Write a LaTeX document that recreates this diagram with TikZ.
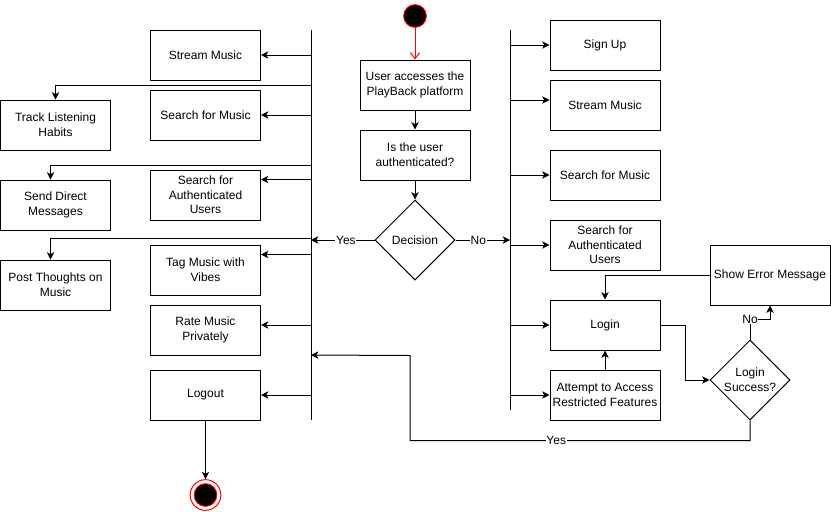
\documentclass[tikz,border=0pt]{standalone}
\usepackage{fontspec}
\setmainfont{Liberation Sans}
\usepackage{tikz}
\usetikzlibrary{arrows.meta,shapes.geometric,calc}
\tikzset{every picture/.style={line width=0.75pt}}
\tikzset{
  actbox/.style={draw, rectangle, minimum width=82.5pt, minimum height=37.5pt, inner sep=1pt, align=center, font=\fontsize{9pt}{11pt}\selectfont},
  decbox/.style={draw, diamond, minimum width=60pt, minimum height=60pt, inner sep=0pt, align=center, font=\fontsize{9pt}{11pt}\selectfont},
  startdot/.style={circle, draw=red, fill=black, minimum size=17pt, inner sep=0pt},
  endring/.style={circle, draw=red, fill=white, minimum size=23pt, inner sep=0pt},
  arr/.style={-{Stealth[length=5.5pt,width=5.5pt,inset=1.5pt]}},
  redarr/.style={draw=red, -{Straight Barb[length=4.5pt,width=7pt]}},
  lbl/.style={fill=white, inner sep=0.5pt, font=\fontsize{9pt}{11pt}\selectfont}
}

\begin{document}
\begin{tikzpicture}[x=0.75pt,y=0.75pt,yscale=-1,xscale=1]
\useasboundingbox (0,0) rectangle (831,511);

%Shape: Start / End
\node[startdot] (start) at (415,16) {};
\node[endring] (stop) at (205.5,495) {};
\node[startdot, minimum size=17pt] (stopdot) at (stop) {};

%Shape: Bars
\coordinate (lbar) at (311,30);
\coordinate (rbar) at (510,30);
\draw (lbar) -- ++(0,390);
\draw (rbar) -- ++(0,380);

%Shape: Middle column
\node[actbox] (access) at (415,85) {User accesses the\\PlayBack platform};
\node[actbox] (auth) at (415,155) {Is the user\\authenticated?};
\node[decbox] (dec) at (415,240) {Decision};

%Shape: Left column
\node[actbox] (lstream) at (205.5,55) {Stream Music};
\node[actbox] (lsearch) at (205.5,115) {Search for Music};
\node[actbox] (lusers) at (205.5,195) {Search for\\Authenticated\\Users};
\node[actbox] (vibes) at (205.5,270) {Tag Music with\\Vibes};
\node[actbox] (rate) at (205.5,330) {Rate Music\\Privately};
\node[actbox] (logout) at (205.5,395) {Logout};

%Shape: Far left column
\node[actbox] (habits) at (55.5,125) {Track Listening\\Habits};
\node[actbox] (messages) at (55.5,205) {Send Direct\\Messages};
\node[actbox] (thoughts) at (55.5,285) {Post Thoughts on\\Music};

%Shape: Right column
\node[actbox] (signup) at (605,45) {Sign Up};
\node[actbox] (rstream) at (605,105) {Stream Music};
\node[actbox] (rsearch) at (605,175) {Search for Music};
\node[actbox] (rusers) at (605,245) {Search for\\Authenticated\\Users};
\node[actbox] (login) at (605,325) {Login};
\node[actbox] (attempt) at (605,395) {Attempt to Access\\Restricted Features};
\node[decbox] (success) at (750,380) {Login\\Success?};
\node[actbox, minimum width=90pt, minimum height=45pt] (error) at (770,275) {Show Error Message};

%Straight Lines: main flow
\draw[redarr] (start) -- (access);
\draw[arr] (access) -- (auth);
\draw[arr] (auth) -- (dec);
\draw[arr] (dec.west) -- node[lbl, pos=0.45] {Yes} (lbar |- dec.west);
\draw[arr] (dec.east) -- node[lbl, pos=0.42] {No} (rbar |- dec.east);

%Straight Lines: left bar
\draw[arr] (lbar |- lstream.east) -- (lstream.east);
\draw[arr] (lbar |- lsearch.east) -- (lsearch.east);
\draw[arr] ($(lusers.north east)+(50,10)$) -- ($(lusers.north east)+(0,10)$);
\draw[arr] ($(vibes.north east)+(50,10)$) -- ($(vibes.north east)+(0,10)$);
\draw[arr] ($(rate.east)+(50,-5)$) -- ($(rate.east)+(0,-5)$);
\draw[arr] (lbar |- logout.east) -- (logout.east);
\draw[arr] (lbar |- 0,85) -| (habits.north);
\draw[arr] (lbar |- 0,165) -| ($(messages.north)+(-5,0)$);
\draw[arr] (lbar |- 0,238) -| ($(thoughts.north)+(-5,0)$);
\draw[arr] (logout) -- (stop);

%Straight Lines: right bar
\draw[arr] (rbar |- signup.west) -- (signup.west);
\draw[arr] ($(rstream.west)+(-40,-5)$) -- ($(rstream.west)+(0,-5)$);
\draw[arr] (rbar |- rsearch.west) -- (rsearch.west);
\draw[arr] (rbar |- rusers.west) -- (rusers.west);
\draw[arr] (rbar |- login.west) -- (login.west);
\draw[arr] (rbar |- attempt.west) -- (attempt.west);

%Straight Lines: login
\draw[arr] (attempt) -- (login);
\draw[arr] (login.east) -- ++(25,0) |- (success.west);
\draw[arr] (success.north) -- ++(0,-20) node[lbl] {No} -| (error.south);
\draw[arr] (error.west) -| (login.north);
\draw[arr] (success.south) -- ++(0,20) -- node[lbl, pos=0.57] {Yes} ++(-340,0) -- ++(0,-85) -- (lbar |- 0,355);

\end{tikzpicture}
\end{document}
